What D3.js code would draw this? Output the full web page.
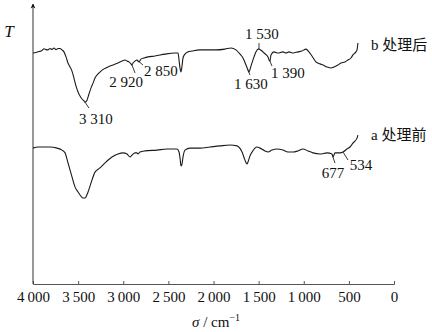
<!DOCTYPE html>
<html>
<head>
<meta charset="utf-8">
<script src="https://cdn.jsdelivr.net/npm/d3@7"></script>
<style>
  body { margin: 0; background: #fff; }
</style>
</head>
<body>
<div id="chart"></div>
<script>
// wavenumber ticks
const xTicks = [4000, 3500, 3000, 2500, 2000, 1500, 1000, 500, 0];

// curve b (after treatment)
const wnB = [4000, 3967, 3934, 3900, 3878, 3856, 3834, 3812, 3789, 3767, 3745, 3723, 3701, 3679, 3657, 3634,
  3612, 3590, 3568, 3546, 3524, 3501, 3479, 3457, 3435, 3424, 3402, 3380, 3357, 3335, 3313, 3280, 3247, 3213,
  3169, 3114, 3058, 3014, 2981, 2958, 2936, 2914, 2903, 2892, 2870, 2848, 2837, 2826, 2803, 2770, 2726, 2648,
  2537, 2427, 2393, 2382, 2371, 2360, 2349, 2338, 2316, 2283, 2238, 2150, 2039, 1972, 1873, 1806, 1751, 1706,
  1673, 1640, 1618, 1607, 1585, 1551, 1529, 1507, 1496, 1463, 1440, 1396, 1385, 1374, 1363, 1330, 1285, 1230,
  1197, 1164, 1119, 1064, 1020, 975, 942, 909, 865, 820, 787, 743, 698, 665, 621, 588, 543, 510, 477, 455,
  422, 410, 400];
const tB = [82.8, 83.0, 83.3, 83.7, 84.3, 84.0, 83.9, 84.4, 84.1, 84.6, 84.0, 84.4, 84.4, 83.9, 83.2, 81.4,
  79.2, 77.8, 76.3, 73.8, 71.0, 68.8, 67.4, 66.3, 65.6, 65.2, 65.9, 68.1, 70.3, 72.0, 73.8, 75.3, 76.3, 77.1,
  77.8, 78.5, 79.2, 79.9, 80.3, 79.9, 79.6, 78.9, 78.5, 79.2, 79.9, 80.3, 79.9, 79.6, 80.6, 81.0, 81.4, 81.7,
  82.4, 82.8, 82.8, 80.3, 77.4, 76.0, 78.1, 81.0, 82.4, 83.2, 83.5, 83.9, 83.9, 83.9, 84.2, 84.6, 83.9, 82.4,
  81.0, 78.5, 76.7, 76.0, 78.1, 81.4, 83.2, 84.2, 84.2, 83.5, 82.8, 81.4, 80.3, 79.9, 82.1, 83.2, 82.8, 83.2,
  82.8, 83.2, 82.8, 83.2, 83.5, 84.2, 83.2, 81.7, 79.6, 78.9, 78.5, 77.8, 77.4, 77.8, 78.5, 79.2, 79.6, 80.3, 81.0, 82.1,
  83.2, 83.9, 86.4];

// curve a (before treatment)
const wnA = [4000, 3945, 3889, 3812, 3734, 3679, 3645, 3612, 3568, 3535, 3501, 3479, 3446, 3424, 3390, 3368,
  3346, 3313, 3258, 3202, 3125, 3058, 3003, 2958, 2925, 2903, 2870, 2848, 2837, 2815, 2759, 2626, 2515, 2404,
  2382, 2371, 2360, 2349, 2338, 2316, 2260, 2150, 2039, 1928, 1817, 1740, 1684, 1651, 1629, 1618, 1596, 1573,
  1518, 1485, 1429, 1396, 1352, 1297, 1230, 1175, 1119, 1064, 1008, 953, 898, 820, 743, 687, 676, 654, 599,
  565, 521, 488, 455, 410, 400];
const tA = [48.7, 49.1, 49.1, 49.1, 48.7, 48.0, 47.0, 43.4, 38.4, 34.8, 33.0, 31.9, 30.8, 30.8, 33.0, 35.1,
  37.3, 40.1, 41.6, 43.4, 45.5, 46.6, 47.0, 46.6, 45.5, 46.2, 47.0, 47.0, 46.6, 47.3, 47.7, 48.0, 48.4, 48.4,
  47.3, 45.2, 42.3, 43.0, 45.5, 48.0, 48.7, 48.7, 49.1, 49.5, 49.8, 49.5, 47.3, 44.4, 43.0, 43.7, 45.9, 47.3,
  49.1, 48.7, 47.7, 47.3, 48.0, 48.4, 48.0, 47.3, 47.3, 47.7, 48.4, 47.7, 47.0, 46.6, 47.0, 46.6, 45.5, 47.0, 47.0,
  47.3, 48.4, 49.1, 50.5, 52.3, 53.4];

// peak labels
const peakText = ["3 310", "2 920", "2 850", "1 630", "1 530", "1 390", "677", "534"];
const peakWn = [3424, 2903, 2848, 1618, 1496, 1374, 676, 565];
const peakCurve = ["b", "b", "b", "b", "b", "b", "a", "a"];

const seriesNames = ["b 处理后", "a 处理前"];

// layout of the leader lines/labels (px offsets from the curve point)
const leaderLayout = [
  { ex: 4, ey: 6, tx: 11, ty: 22 },
  { ex: 3, ey: 8, tx: -6, ty: 22 },
  { ex: 6, ey: 5, tx: 24, ty: 16 },
  { ex: 2, ey: 5, tx: 3, ty: 19 },
  { ex: 0, ey: -6, tx: 3, ty: -10 },
  { ex: 2, ey: 5, tx: 18, ty: 17 },
  { ex: 2, ey: 6, tx: 0, ty: 21 },
  { ex: 5, ey: 8, tx: 18, ty: 18 }
];

const SERIF = '"Liberation Serif", "Times New Roman", serif';
const CJK = '"Liberation Serif", "Noto Sans CJK SC", serif';

const width = 432, height = 332;
const margin = { left: 33, right: 38, top: 5, bottom: 48 };

const svg = d3.select('#chart')
  .append('svg')
  .attr('width', width)
  .attr('height', height);

const x = d3.scaleLinear()
  .domain([4000, 0])
  .range([margin.left, width - margin.right]);

const y = d3.scaleLinear()
  .domain([0, 100])
  .range([height - margin.bottom, margin.top]);

const fmt = d => d >= 1000 ? `${Math.floor(d / 1000)}\u2009${String(d % 1000).padStart(3, '0')}` : `${d}`;

// x axis
const xAxis = svg.append('g')
  .attr('transform', `translate(0,${y(0)})`)
  .call(d3.axisBottom(x).tickValues(xTicks).tickSize(-3).tickPadding(7).tickFormat(fmt));
xAxis.attr('font-family', SERIF).attr('font-size', 15);
xAxis.select('.domain').attr('stroke', '#555');
xAxis.selectAll('.tick line').attr('stroke', '#555');
xAxis.selectAll('text')
  .attr('font-family', SERIF)
  .attr('font-size', 15)
  .attr('fill', '#111');

// y axis with arrow
svg.append('defs').append('marker')
  .attr('id', 'arrow')
  .attr('viewBox', '0 0 10 10')
  .attr('refX', 9).attr('refY', 5)
  .attr('markerWidth', 5).attr('markerHeight', 8)
  .attr('markerUnits', 'userSpaceOnUse')
  .attr('orient', 'auto')
  .append('path')
  .attr('d', 'M0,0 L10,5 L0,10 L3,5 Z')
  .attr('fill', '#111');

svg.append('line')
  .attr('x1', x(4000)).attr('x2', x(4000))
  .attr('y1', y(0)).attr('y2', y(100) - 1)
  .attr('stroke', '#333')
  .attr('stroke-width', 1)
  .attr('marker-end', 'url(#arrow)');

svg.append('text')
  .attr('x', 9).attr('y', 37)
  .attr('text-anchor', 'middle')
  .attr('font-family', SERIF)
  .attr('font-size', 17)
  .attr('font-style', 'italic')
  .attr('fill', '#111')
  .text('T');

// axis title
const title = svg.append('text')
  .attr('x', 216).attr('y', 327)
  .attr('text-anchor', 'middle')
  .attr('font-family', SERIF)
  .attr('font-size', 15)
  .attr('fill', '#111');
title.append('tspan').attr('font-style', 'italic').text('σ');
title.append('tspan').text(' / cm');
title.append('tspan').attr('font-size', 10).attr('dy', -6).text('−1');

// curves
const line = d3.line()
  .x(d => x(d[0]))
  .y(d => y(d[1]))
  .curve(d3.curveMonotoneX);

const curves = {
  b: d3.zip(wnB, tB),
  a: d3.zip(wnA, tA)
};

svg.selectAll('.spectrum')
  .data([curves.b, curves.a])
  .enter().append('path')
  .attr('class', 'spectrum')
  .attr('d', d => line(d.slice().reverse()))
  .attr('fill', 'none')
  .attr('stroke', '#1a1a1a')
  .attr('stroke-width', 1.1);

// series names at curve ends
svg.selectAll('.sname')
  .data(seriesNames)
  .enter().append('text')
  .attr('class', 'sname')
  .attr('x', 371)
  .attr('y', (d, i) => i === 0 ? y(tB[tB.length - 1]) + 7 : y(tA[tA.length - 1]) + 5)
  .attr('font-family', CJK)
  .attr('font-size', 15)
  .attr('fill', '#111')
  .text(d => d);

// peak annotations
function tAt(curve, wn) {
  const d = curves[curve];
  for (let i = 0; i < d.length - 1; i++) {
    const a = d[i], b = d[i + 1];
    if (wn <= a[0] && wn >= b[0]) {
      const f = (a[0] - wn) / (a[0] - b[0] || 1);
      return a[1] + f * (b[1] - a[1]);
    }
  }
  return d[d.length - 1][1];
}

peakText.forEach((label, i) => {
  const px = x(peakWn[i]), py = y(tAt(peakCurve[i], peakWn[i]));
  const l = leaderLayout[i];
  svg.append('line')
    .attr('x1', px).attr('y1', py)
    .attr('x2', px + l.ex).attr('y2', py + l.ey)
    .attr('stroke', '#222')
    .attr('stroke-width', 0.9);
  svg.append('text')
    .attr('x', px + l.tx).attr('y', py + l.ty)
    .attr('text-anchor', 'middle')
    .attr('font-family', SERIF)
    .attr('font-size', 15)
    .attr('fill', '#111')
    .text(label);
});
</script>
</body>
</html>
